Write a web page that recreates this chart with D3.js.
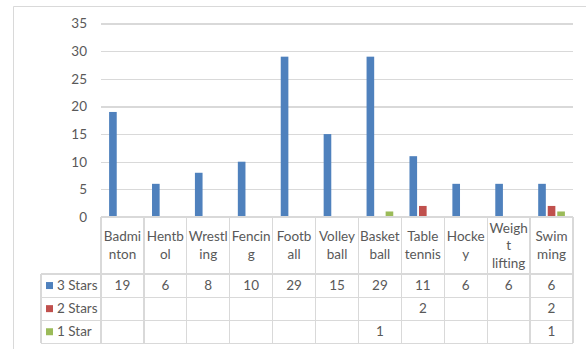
<!DOCTYPE html>
<html>
<head>
<meta charset="utf-8">
<script src="https://cdn.jsdelivr.net/npm/d3@7"></script>
<style>
  html, body { margin: 0; padding: 0; background: #fff; }
  svg { display: block; font-family: Lato, "Open Sans", sans-serif; }
</style>
</head>
<body>
<svg id="chart" width="586" height="349"></svg>
<script>
// Sports and the number of star ratings awarded in each
const categories = ["Badminton", "Hentbol", "Wrestling", "Fencing", "Football", "Volleyball",
                    "Basketball", "Table tennis", "Hockey", "Weight lifting", "Swimming"];
// Header text as it wraps inside the narrow table columns
const headerLines = [["Badmi", "nton"], ["Hentb", "ol"], ["Wrestl", "ing"], ["Fencin", "g"],
                     ["Footb", "all"], ["Volley", "ball"], ["Basket", "ball"], ["Table", "tennis"],
                     ["Hocke", "y"], ["Weigh", "t", "lifting"], ["Swim", "ming"]];
const seriesNames = ["3 Stars", "2 Stars", "1 Star"];
const threeStars = [19, 6, 8, 10, 29, 15, 29, 11, 6, 6, 6];
const twoStars   = [null, null, null, null, null, null, null, 2, null, null, 2];
const oneStar    = [null, null, null, null, null, null, 1, null, null, null, 1];
const seriesColors = ["#4F81BD", "#C0504D", "#9BBB59"];
const yTicks = [0, 5, 10, 15, 20, 25, 30, 35];

const seriesValues = [threeStars, twoStars, oneStar];

const svg = d3.select("#chart");
const plot = { left: 101, right: 573, top: 23.5, bottom: 217 };
const table = { legendLeft: 41, headerBottom: 274, rowH: 23.1 };
const textColor = "#595959";
const gridColor = "#D9D9D9";

// Outer chart frame
svg.append("path")
  .attr("d", `M13.5,349 V6.5 H586`)
  .attr("fill", "none").attr("stroke", "#D9D9D9").attr("stroke-width", 1);

const x0 = d3.scaleBand().domain(categories).range([plot.left, plot.right]).padding(0);
const x1 = d3.scaleBand().domain(seriesNames).range([0, x0.bandwidth()])
  .paddingInner(0.2).paddingOuter(0.85);
const y = d3.scaleLinear().domain([0, 35]).range([plot.bottom, plot.top]);

// Horizontal gridlines and y labels
const yAxis = d3.axisLeft(y).tickValues(yTicks).tickSize(-(plot.right - plot.left)).tickPadding(14);
const gy = svg.append("g").attr("transform", `translate(${plot.left},0)`).call(yAxis);
gy.select(".domain").remove();
gy.selectAll(".tick line").attr("stroke", gridColor).attr("stroke-width", 1.2)
  .attr("shape-rendering", "crispEdges");
gy.selectAll(".tick text").attr("fill", textColor).attr("font-size", 13.5)
  .attr("font-family", "Lato, 'Open Sans', sans-serif");

// Bars
seriesNames.forEach((name, si) => {
  svg.append("g").selectAll("rect")
    .data(categories.map((c, i) => ({ c, v: seriesValues[si][i] })).filter(d => d.v != null))
    .join("rect")
    .attr("x", d => x0(d.c) + x1(name))
    .attr("width", x1.bandwidth())
    .attr("y", d => y(d.v))
    .attr("height", d => y(0) - y(d.v))
    .attr("fill", seriesColors[si]);
});

// Data table
const tableBottom = table.headerBottom + table.rowH * seriesNames.length;
const lines = svg.append("g").attr("stroke", gridColor).attr("stroke-width", 1.2)
  .attr("shape-rendering", "crispEdges");
// vertical lines at column edges
const colEdges = categories.map(c => x0(c)).concat([plot.right]);
colEdges.forEach(xe => {
  lines.append("line").attr("x1", xe).attr("x2", xe).attr("y1", plot.bottom).attr("y2", tableBottom);
});
lines.append("line").attr("x1", table.legendLeft).attr("x2", table.legendLeft)
  .attr("y1", table.headerBottom).attr("y2", tableBottom);
// horizontal lines
lines.append("line").attr("x1", plot.left).attr("x2", plot.right).attr("y1", plot.bottom).attr("y2", plot.bottom);
for (let r = 0; r <= seriesNames.length; r++) {
  const yy = table.headerBottom + r * table.rowH;
  lines.append("line").attr("x1", table.legendLeft).attr("x2", plot.right).attr("y1", yy).attr("y2", yy);
}

// Header (category) labels
const lineH = 17.5;
const headerMid = (plot.bottom + table.headerBottom) / 2;
const header = svg.append("g").attr("fill", textColor).attr("font-size", 13.5).attr("text-anchor", "middle");
categories.forEach((c, i) => {
  const ls = headerLines[i];
  const cx = x0(c) + x0.bandwidth() / 2;
  ls.forEach((t, k) => {
    header.append("text")
      .attr("x", cx)
      .attr("y", headerMid + (k - (ls.length - 1) / 2) * lineH)
      .attr("dy", "0.35em")
      .text(t);
  });
});

// Rows: legend key + values
seriesNames.forEach((name, si) => {
  const cy = table.headerBottom + (si + 0.5) * table.rowH;
  svg.append("rect").attr("x", 46).attr("y", cy - 3.5).attr("width", 7).attr("height", 7)
    .attr("fill", seriesColors[si]);
  svg.append("text").attr("x", 57).attr("y", cy).attr("dy", "0.35em")
    .attr("fill", textColor).attr("font-size", 13.5).text(name);
  const g = svg.append("g").attr("fill", textColor).attr("font-size", 13.5).attr("text-anchor", "middle");
  categories.forEach((c, i) => {
    const v = seriesValues[si][i];
    if (v == null) return;
    g.append("text").attr("x", x0(c) + x0.bandwidth() / 2).attr("y", cy).attr("dy", "0.35em").text(v);
  });
});
</script>
</body>
</html>
